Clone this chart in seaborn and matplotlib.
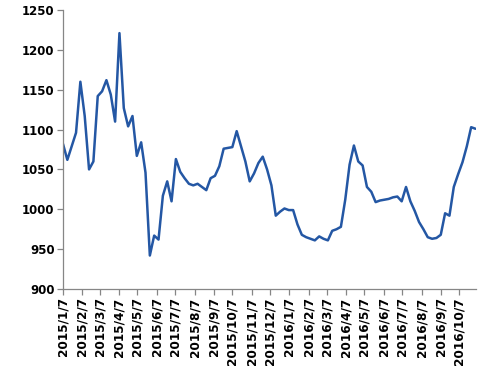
import pandas as pd
import matplotlib
matplotlib.use("Agg")
import matplotlib.pyplot as plt
import seaborn as sns

# weekly series, 2015/1/7 .. 2016/11/2
start_date = "2015-01-07"
values_2015 = [
    1082, 1062, 1079, 1096,
    1160, 1117, 1050, 1060,
    1142, 1148, 1162, 1144,
    1110, 1221, 1127, 1104, 1117,
    1067, 1084, 1046, 942,
    967, 962, 1017, 1035,
    1010, 1063, 1047, 1039, 1032,
    1030, 1032, 1028, 1024,
    1039, 1042, 1054, 1076, 1077,
    1078, 1098, 1079, 1060,
    1035, 1045, 1058, 1066,
    1050, 1030, 992, 997, 1001,
]
values_2016 = [
    999, 999, 981, 968,
    965, 963, 961, 966,
    963, 961, 973, 975, 978,
    1012, 1056, 1080, 1060,
    1055, 1028, 1022, 1009,
    1011, 1012, 1013, 1015, 1016,
    1010, 1028, 1010, 998,
    984, 975, 965, 963, 964,
    968, 995, 992, 1028,
    1044, 1059, 1079, 1103,
    1101,
]
tick_labels = [
    "2015/1/7", "2015/2/7", "2015/3/7", "2015/4/7", "2015/5/7", "2015/6/7",
    "2015/7/7", "2015/8/7", "2015/9/7", "2015/10/7", "2015/11/7", "2015/12/7",
    "2016/1/7", "2016/2/7", "2016/3/7", "2016/4/7", "2016/5/7", "2016/6/7",
    "2016/7/7", "2016/8/7", "2016/9/7", "2016/10/7",
]
y_ticks = [900, 950, 1000, 1050, 1100, 1150, 1200, 1250]

values = values_2015 + values_2016
df = pd.DataFrame({
    "date": pd.date_range(start_date, periods=len(values), freq="7D"),
    "value": values,
})
tick_dates = pd.to_datetime(tick_labels, format="%Y/%m/%d")

sns.set_style("ticks")
plt.rcParams["font.family"] = ["DejaVu Sans"]

fig = plt.figure(figsize=(4.94, 3.71), dpi=100)
ax = fig.add_axes([63 / 494, 1 - 289 / 371, (475.5 - 63) / 494, (289 - 10) / 371])

sns.lineplot(data=df, x="date", y="value", ax=ax, color="#2457A4", linewidth=1.8)

ax.set_xlim(df["date"].iloc[0], df["date"].iloc[-1])
ax.set_ylim(900, 1250)
ax.set_xticks(tick_dates)
ax.set_xticklabels(tick_labels, rotation=90, fontsize=8.7, fontweight="bold", color="black")
ax.set_yticks(y_ticks)
ax.set_yticklabels([str(v) for v in y_ticks], fontsize=8.5, fontweight="bold", color="black")
ax.set_xlabel("")
ax.set_ylabel("")

for side in ["top", "right"]:
    ax.spines[side].set_visible(False)
for side in ["left", "bottom"]:
    ax.spines[side].set_color("#868686")
    ax.spines[side].set_linewidth(0.9)
ax.tick_params(axis="both", direction="out", length=4, width=0.9, color="#868686", pad=2)

fig.savefig("out.png", dpi=100)
